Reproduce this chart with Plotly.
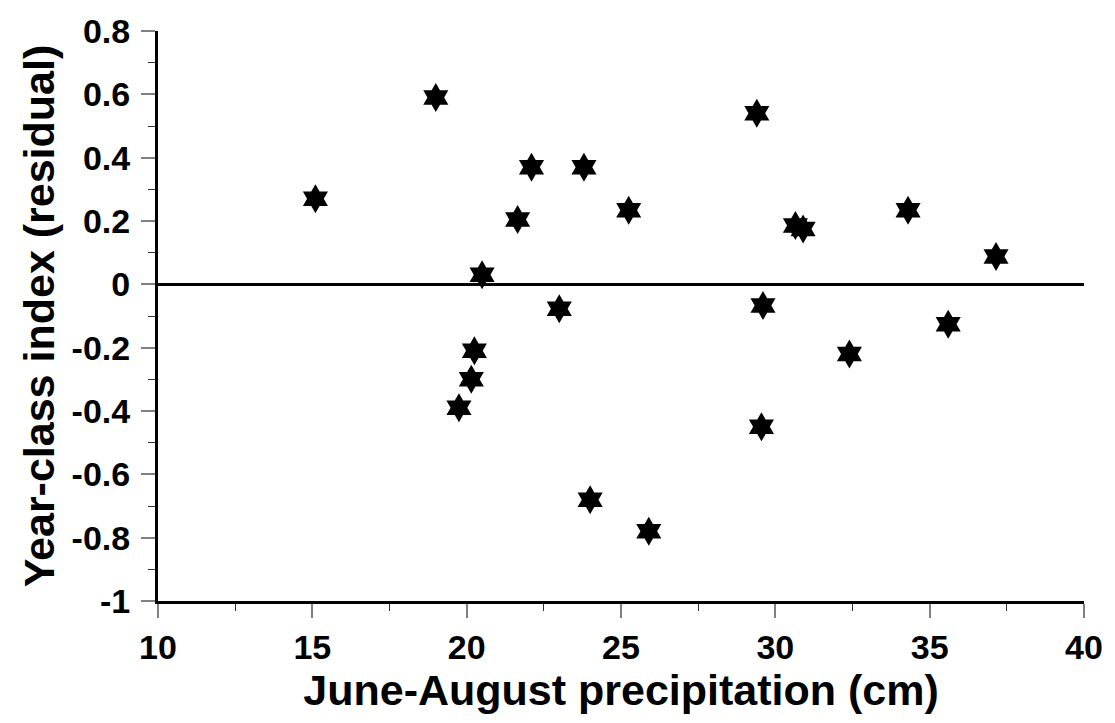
import plotly.graph_objects as go

precip = [15.1, 19.0, 20.5, 19.75, 20.15, 20.25, 21.65, 22.1, 23.0, 23.8, 24.0,
          25.25, 25.9, 29.4, 29.6, 29.55, 30.65, 30.9, 32.4, 34.3, 35.6, 37.15]
residual = [0.27, 0.59, 0.03, -0.39, -0.30, -0.21, 0.205, 0.37, -0.077, 0.37, -0.68,
            0.234, -0.78, 0.54, -0.067, -0.45, 0.186, 0.175, -0.22, 0.234, -0.126, 0.088]

x_tickvals = [10, 15, 20, 25, 30, 35, 40]
x_ticktext = ["10", "15", "20", "25", "30", "35", "40"]
y_tickvals = [0.8, 0.6, 0.4, 0.2, 0, -0.2, -0.4, -0.6, -0.8, -1]
y_ticktext = ["0.8", "0.6", "0.4", "0.2", "0", "-0.2", "-0.4", "-0.6", "-0.8", "-1"]

FONT = "Liberation Sans, Arial, sans-serif"

fig = go.Figure()
fig.add_trace(go.Scatter(
    x=precip, y=residual, mode="markers",
    marker=dict(symbol="hexagram", size=22, color="black", line=dict(width=0)),
    showlegend=False,
))

fig.update_layout(
    width=1115, height=723,
    margin=dict(l=158, r=23, t=22, b=122),
    paper_bgcolor="white", plot_bgcolor="white",
    font=dict(family=FONT, color="black"),
)
fig.update_xaxes(
    range=[10, 40], tickvals=x_tickvals, ticktext=x_ticktext,
    showgrid=False, zeroline=False,
    showline=True, linecolor="black", linewidth=3,
    ticks="outside", ticklen=14, tickwidth=2, tickcolor="#808080",
    minor=dict(dtick=2.5, tick0=10, ticks="outside", ticklen=7, tickwidth=1, tickcolor="#333333", showgrid=False),
    tickfont=dict(size=34, family=FONT, weight="bold"),
    title=dict(text="<b>June-August precipitation (cm)</b>", font=dict(size=43, family=FONT), standoff=6),
)
fig.update_yaxes(
    range=[-1, 0.8], tickvals=y_tickvals, ticktext=y_ticktext,
    showgrid=False, zeroline=True, zerolinecolor="black", zerolinewidth=2.5,
    showline=True, linecolor="black", linewidth=3,
    ticks="outside", ticklen=14, tickwidth=2, tickcolor="#808080",
    ticklabelstandoff=4,
    minor=dict(dtick=0.1, tick0=0, ticks="outside", ticklen=7, tickwidth=1, tickcolor="#333333", showgrid=False),
    tickfont=dict(size=34, family=FONT, weight="bold"),
    title=dict(text="<b>Year-class index (residual)</b>", font=dict(size=43, family=FONT), standoff=4),
)

fig.write_html("out.html")
